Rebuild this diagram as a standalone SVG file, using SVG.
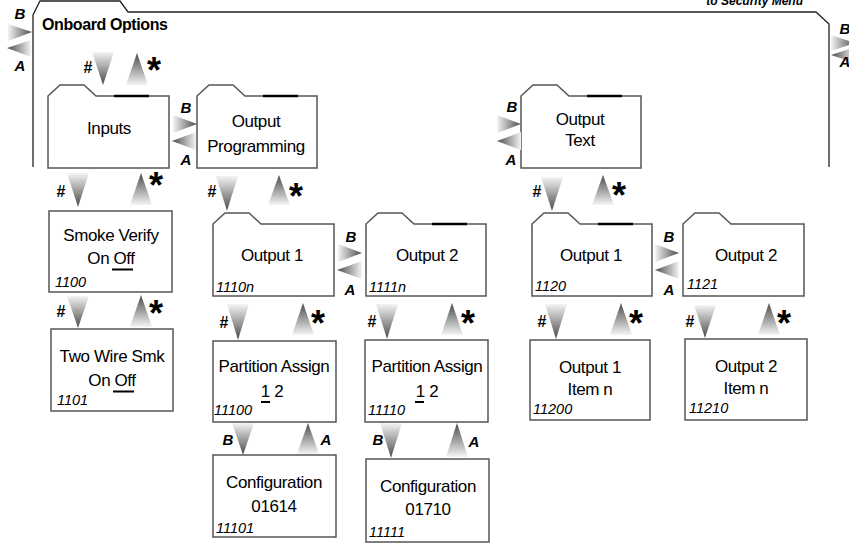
<svg xmlns="http://www.w3.org/2000/svg" width="849" height="544" viewBox="0 0 849 544">
<defs>
<linearGradient id="gd" x1="0" y1="0" x2="0" y2="1"><stop offset="0" stop-color="#f4f4f4"/><stop offset="1" stop-color="#4a4a4a"/></linearGradient>
<linearGradient id="gu" x1="0" y1="1" x2="0" y2="0"><stop offset="0" stop-color="#f4f4f4"/><stop offset="1" stop-color="#4a4a4a"/></linearGradient>
<linearGradient id="gr" x1="0" y1="0" x2="1" y2="0"><stop offset="0" stop-color="#f4f4f4"/><stop offset="1" stop-color="#4a4a4a"/></linearGradient>
<linearGradient id="gl" x1="1" y1="0" x2="0" y2="0"><stop offset="0" stop-color="#f4f4f4"/><stop offset="1" stop-color="#4a4a4a"/></linearGradient>
</defs>
<style>
.box{fill:#fff;stroke:#555;stroke-width:1.5}
.frame{fill:none;stroke:#222;stroke-width:1.3}
.dk{stroke:#000;stroke-width:2.5}
.ul{stroke:#000;stroke-width:2}
.t{font-family:"Liberation Sans",Arial,sans-serif;font-size:17px;letter-spacing:-0.4px;text-anchor:middle;fill:#000}
.n{font-family:"Liberation Sans",Arial,sans-serif;font-style:italic;font-size:14.5px;fill:#000}
.h{font-family:"Liberation Sans",Arial,sans-serif;font-weight:bold;font-size:16px;text-anchor:middle;fill:#000}
.s{font-family:"Liberation Sans",Arial,sans-serif;font-weight:bold;font-size:36px;fill:#000}
.ba{font-family:"Liberation Sans",Arial,sans-serif;font-weight:bold;font-style:italic;font-size:15px;text-anchor:middle;fill:#000}
.d{fill:url(#gd)}.u{fill:url(#gu)}.r{fill:url(#gr)}.l{fill:url(#gl)}
</style>

<g id="onboard-options">
<path class="frame" d="M33,167 V15 L40,1 H120 L128,12 H816 L829,24 V167"/>
<text x="42" y="30" font-family="Liberation Sans, Arial, sans-serif" font-weight="bold" font-size="16" letter-spacing="-0.4">Onboard Options</text>
<text x="803" y="5" font-family="Liberation Sans, Arial, sans-serif" font-weight="bold" font-style="italic" font-size="12" text-anchor="end">to Security Menu</text>
</g>

<g id="inputs">
<path class="box" d="M48,168 V96 L60,85 H84 L96,96 H169 V168 Z"/>
<line class="dk" x1="114" y1="96" x2="149" y2="96"/>
<text class="t" x="109" y="134">Inputs</text>
</g>

<g id="output-programming">
<path class="box" d="M197,168 V96 L209,85 H233 L245,96 H317 V168 Z"/>
<line class="dk" x1="263" y1="96" x2="298" y2="96"/>
<text class="t" x="256" y="127">Output</text>
<text class="t" x="256" y="152">Programming</text>
</g>

<g id="output-text">
<path class="box" d="M521,168 V96 L533,85 H557 L569,96 H641 V168 Z"/>
<line class="dk" x1="587" y1="96" x2="622" y2="96"/>
<text class="t" x="580" y="125">Output</text>
<text class="t" x="580" y="146">Text</text>
</g>

<g id="smoke-verify">
<rect class="box" x="49" y="211" width="123" height="81"/>
<text class="t" x="111" y="241">Smoke Verify</text>
<text class="t" x="111" y="264">On Off</text>
<line class="ul" x1="112" y1="269.5" x2="133" y2="269.5"/>
<text class="n" x="55" y="287">1100</text>
</g>

<g id="two-wire-smk">
<rect class="box" x="51" y="329" width="122" height="82"/>
<text class="t" x="112" y="362">Two Wire Smk</text>
<text class="t" x="112" y="386">On Off</text>
<line class="ul" x1="113" y1="391.5" x2="134" y2="391.5"/>
<text class="n" x="57" y="405">1101</text>
</g>

<g id="output1-1110n">
<path class="box" d="M213,296 V224 L225,213 H249 L261,224 H334 V296 Z"/>
<text class="t" x="272" y="261">Output 1</text>
<text class="n" x="216" y="292">1110n</text>
</g>

<g id="output2-1111n">
<path class="box" d="M366,296 V224 L378,213 H402 L414,224 H486 V296 Z"/>
<line class="dk" x1="432" y1="224" x2="467" y2="224"/>
<text class="t" x="427" y="261">Output 2</text>
<text class="n" x="369" y="292">1111n</text>
</g>

<g id="output1-1120">
<path class="box" d="M532,296 V224 L544,213 H568 L580,224 H652 V296 Z"/>
<line class="dk" x1="598" y1="224" x2="633" y2="224"/>
<text class="t" x="591" y="261">Output 1</text>
<text class="n" x="535" y="291">1120</text>
</g>

<g id="output2-1121">
<path class="box" d="M683,296 V224 L695,213 H719 L731,224 H804 V296 Z"/>
<text class="t" x="746" y="261">Output 2</text>
<text class="n" x="687" y="289">1121</text>
</g>

<g id="partition-assign-11100">
<rect class="box" x="213" y="341" width="123" height="81"/>
<text class="t" x="274" y="372">Partition Assign</text>
<text class="t" x="272" y="397">1 2</text>
<line class="ul" x1="261" y1="402" x2="270" y2="402"/>
<text class="n" x="214" y="415">11100</text>
</g>

<g id="partition-assign-11110">
<rect class="box" x="365" y="340" width="123" height="82"/>
<text class="t" x="427" y="372">Partition Assign</text>
<text class="t" x="427" y="397">1 2</text>
<line class="ul" x1="415" y1="402" x2="424" y2="402"/>
<text class="n" x="368" y="415">11110</text>
</g>

<g id="configuration-11101">
<rect class="box" x="213" y="455" width="123" height="82"/>
<text class="t" x="274" y="488">Configuration</text>
<text class="t" x="274" y="512">01614</text>
<text class="n" x="216" y="533">11101</text>
</g>

<g id="configuration-11111">
<rect class="box" x="366" y="459" width="123" height="83"/>
<text class="t" x="428" y="492">Configuration</text>
<text class="t" x="428" y="515">01710</text>
<text class="n" x="369" y="537">11111</text>
</g>

<g id="output1-item-11200">
<rect class="box" x="530" y="340" width="120" height="80"/>
<text class="t" x="590" y="373">Output 1</text>
<text class="t" x="590" y="395">Item n</text>
<text class="n" x="533" y="414">11200</text>
</g>

<g id="output2-item-11210">
<rect class="box" x="685" y="339" width="122" height="81"/>
<text class="t" x="746" y="372">Output 2</text>
<text class="t" x="746" y="394">Item n</text>
<text class="n" x="689" y="413">11210</text>
</g>

<g id="connectors">
<polygon class="r" points="8,24 8,41 32,32"/>
<polygon class="l" points="31,40 31,57 7,48"/>
<text class="ba" x="20" y="19">B</text>
<text class="ba" x="20" y="71">A</text>
<polygon class="r" points="831,35 831,51 855,43"/>
<polygon class="l" points="855,47 855,63 831,55"/>
<text class="ba" x="845" y="34">B</text>
<text class="ba" x="845" y="67">A</text>
<polygon class="r" points="173,115 173,133 197,124"/>
<polygon class="l" points="196,132 196,150 172,141"/>
<text class="ba" x="186" y="113">B</text>
<text class="ba" x="186" y="165">A</text>
<polygon class="r" points="497,115 497,133 521,124"/>
<polygon class="l" points="521,132 521,150 497,141"/>
<text class="ba" x="512" y="112">B</text>
<text class="ba" x="511" y="165">A</text>
<polygon class="r" points="338,244 338,262 362,253"/>
<polygon class="l" points="362,261 362,279 337,270"/>
<text class="ba" x="351" y="242">B</text>
<text class="ba" x="350" y="295">A</text>
<polygon class="r" points="655,244 655,262 679,253"/>
<polygon class="l" points="679,261 679,279 655,270"/>
<text class="ba" x="669" y="242">B</text>
<text class="ba" x="669" y="295">A</text>

<polygon class="d" points="92,52 114,52 103,85"/>
<text class="h" x="88" y="73">#</text>
<polygon class="u" points="126,85 148,85 137,53"/>
<text class="s" x="147" y="83">*</text>

<polygon class="d" points="67,173 89,173 78,207"/>
<text class="h" x="61" y="197">#</text>
<polygon class="u" points="130,205 152,205 141,173"/>
<text class="s" x="149" y="198">*</text>

<polygon class="d" points="67,296 89,296 78,328"/>
<text class="h" x="61" y="317">#</text>
<polygon class="u" points="130,327 152,327 141,295"/>
<text class="s" x="149" y="326">*</text>

<polygon class="d" points="216,176 238,176 227,211"/>
<text class="h" x="212" y="197">#</text>
<polygon class="u" points="268,205 290,205 279,175"/>
<text class="s" x="289" y="209">*</text>

<polygon class="d" points="227,304 249,304 238,340"/>
<text class="h" x="224" y="328">#</text>
<polygon class="u" points="292,335 314,335 303,303"/>
<text class="s" x="311" y="336">*</text>

<polygon class="d" points="376,304 398,304 387,339"/>
<text class="h" x="372" y="327">#</text>
<polygon class="u" points="441,335 463,335 452,303"/>
<text class="s" x="461" y="336">*</text>

<polygon class="d" points="232,423 254,423 243,455"/>
<text class="ba" x="228" y="445">B</text>
<polygon class="u" points="297,454 319,454 308,423"/>
<text class="ba" x="326" y="445">A</text>

<polygon class="d" points="380,423 402,423 391,458"/>
<text class="ba" x="378" y="445">B</text>
<polygon class="u" points="446,457 468,457 457,423"/>
<text class="ba" x="474" y="447">A</text>

<polygon class="d" points="541,177 563,177 552,211"/>
<text class="h" x="537" y="197">#</text>
<polygon class="u" points="592,205 614,205 603,175"/>
<text class="s" x="612" y="208">*</text>

<polygon class="d" points="545,304 567,304 556,339"/>
<text class="h" x="542" y="327">#</text>
<polygon class="u" points="610,335 632,335 621,303"/>
<text class="s" x="629" y="336">*</text>

<polygon class="d" points="694,305 716,305 705,338"/>
<text class="h" x="690" y="327">#</text>
<polygon class="u" points="758,335 780,335 769,303"/>
<text class="s" x="777" y="336">*</text>
</g>
</svg>
